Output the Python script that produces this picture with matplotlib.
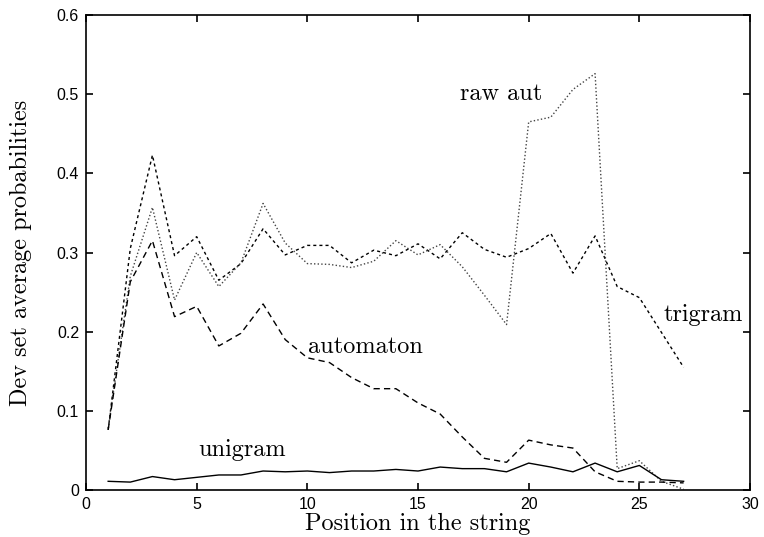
import matplotlib
matplotlib.use("Agg")
import matplotlib.pyplot as plt
import numpy as np

positions = list(range(1, 28))

trigram = [0.076, 0.305, 0.423, 0.296, 0.320, 0.265, 0.286, 0.330, 0.297, 0.309,
           0.309, 0.287, 0.303, 0.296, 0.311, 0.292, 0.325, 0.304, 0.294, 0.305,
           0.324, 0.274, 0.321, 0.257, 0.243, 0.199, 0.155]
raw_aut = [0.078, 0.270, 0.357, 0.240, 0.300, 0.257, 0.287, 0.362, 0.312, 0.286,
           0.285, 0.281, 0.289, 0.315, 0.297, 0.310, 0.282, 0.246, 0.209, 0.465,
           0.471, 0.506, 0.526, 0.027, 0.037, 0.011, 0.001]
automaton = [0.076, 0.263, 0.315, 0.219, 0.232, 0.182, 0.198, 0.235, 0.190, 0.167,
             0.161, 0.142, 0.128, 0.128, 0.110, 0.096, 0.067, 0.040, 0.035, 0.063,
             0.057, 0.053, 0.023, 0.011, 0.010, 0.010, 0.009]
unigram = [0.011, 0.010, 0.017, 0.013, 0.016, 0.019, 0.019, 0.024, 0.023, 0.024,
           0.022, 0.024, 0.024, 0.026, 0.024, 0.029, 0.027, 0.027, 0.023, 0.034,
           0.029, 0.023, 0.034, 0.023, 0.031, 0.013, 0.011]

serif = "cmr10"
sans = ["Liberation Sans", "DejaVu Sans"]

fig = plt.figure(figsize=(7.64, 5.37), dpi=100)
ax = fig.add_axes([0.1126, 0.0875, 0.8691, 0.8845])

ax.plot(positions, trigram, color="black", lw=1.0, linestyle=(0, (2.2, 2.2)))
ax.plot(positions, raw_aut, color="#444444", lw=1.0, linestyle=(0, (1, 1.6)))
ax.plot(positions, automaton, color="black", lw=1.0, linestyle=(0, (4.5, 3)))
ax.plot(positions, unigram, color="black", lw=1.0)

ax.set_xlim(0, 30)
ax.set_ylim(0, 0.6)
ax.set_xticks([0, 5, 10, 15, 20, 25, 30])
ax.set_yticks([0, 0.1, 0.2, 0.3, 0.4, 0.5, 0.6])
ax.set_xticklabels(["0", "5", "10", "15", "20", "25", "30"], family=sans, fontsize=11.5)
ax.set_yticklabels(["0", "0.1", "0.2", "0.3", "0.4", "0.5", "0.6"], family=sans, fontsize=11.5)
ax.tick_params(direction="in", length=5, width=1.2, top=True, right=True, pad=5)
for s in ax.spines.values():
    s.set_linewidth(1.2)

ax.set_xlabel("Position in the string", family=serif, fontsize=17.5, labelpad=1)
ax.set_ylabel("Dev set average probabilities", family=serif, fontsize=17.5, labelpad=18)

ax.text(16.9, 0.50, "raw aut", family=serif, fontsize=17.5, va="center")
ax.text(26.07, 0.221, "trigram", family=serif, fontsize=17.5, va="center")
ax.text(10.03, 0.181, "automaton", family=serif, fontsize=17.5, va="center")
ax.text(5.05, 0.051, "unigram", family=serif, fontsize=17.5, va="center")

fig.savefig("out.png", dpi=100)
